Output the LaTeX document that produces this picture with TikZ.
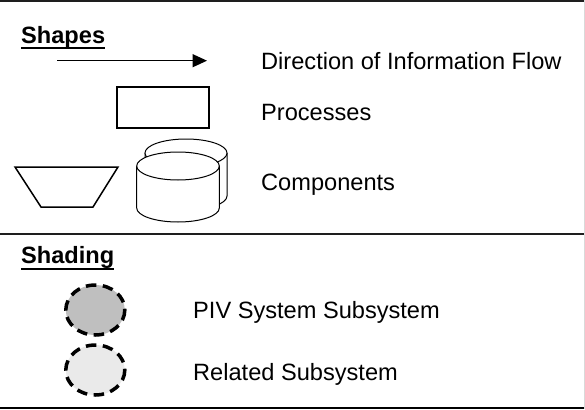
\documentclass[tikz,border=0pt]{standalone}
\usepackage{fontspec}
\setmainfont{Liberation Sans}
\usetikzlibrary{arrows.meta}
\definecolor{pivgray}{RGB}{191,191,191}
\definecolor{relgray}{RGB}{234,234,234}
\definecolor{framegray}{RGB}{30,30,30}
\begin{document}
\begin{tikzpicture}[x=1pt,y=-1pt,
  lbl/.style={inner sep=0pt,anchor=base west,font=\fontsize{23.6}{28}\selectfont},
  headlbl/.style={lbl,font=\fontsize{23.6}{28}\selectfont\bfseries},
  uline/.style={line width=2.5pt},
  outlined/.style={line width=1.5pt,draw=black},
  cyl/.style={line width=1pt,draw=black,fill=white},
  subsys/.style={line width=3.5pt,dash pattern=on 10.5pt off 6.5pt,draw=black}]
\useasboundingbox (0,0) rectangle (585,409);
% frame
\draw[line width=2.5pt,framegray] (0,1.2) -- (585,1.2);
\draw[line width=2.5pt,black] (0,407.8) -- (585,407.8);
\draw[line width=2pt,framegray] (0,234) -- (585,234);
\draw[line width=1pt,black!15] (584.5,0) -- (584.5,409);
% headings
\node[headlbl] (shapes) at (21,43.5) {Shapes};
\draw[uline] ([yshift=-4.6pt]shapes.base west) -- ([yshift=-4.6pt]shapes.base east);
\node[headlbl] (shading) at (21,263.3) {Shading};
\draw[uline] ([yshift=-5.5pt]shading.base west) -- ([yshift=-5.5pt]shading.base east);
% arrow
\coordinate (as) at (57,60.7);
\coordinate (ae) at (207,60.7);
\draw[line width=1.5pt,-{Triangle[length=14.5pt,width=13pt]}] (as) -- (ae);
\node[lbl] (dir) at (261,70) {Direction of Information Flow};
% process box
\node[outlined,minimum width=92pt,minimum height=41pt,inner sep=0pt] (proc) at (163,107.5) {};
\node[lbl] (procl) at (261,120.2) {Processes};
% trapezoid
\draw[outlined,line join=miter] (15,167) -- (118,167) -- (93,207) -- (41,207) -- cycle;
% back cylinder
\draw[cyl] (145,153) -- (145,196) .. controls (145,203.73) and (163.4,210) .. (186,210)
  .. controls (208.6,210) and (227,203.73) .. (227,196) -- (227,153);
\draw[cyl] (186,153) ellipse [x radius=41,y radius=14];
% front cylinder
\draw[cyl] (136.7,166) -- (136.7,208) .. controls (136.7,215.73) and (155.2,222) .. (178,222)
  .. controls (200.8,222) and (219.3,215.73) .. (219.3,208) -- (219.3,166);
\draw[cyl] (178,166) ellipse [x radius=41.3,y radius=14];
\node[lbl] (comp) at (261,190.2) {Components};
% shading
\draw[subsys,fill=pivgray] (95.3,310) ellipse [x radius=29.5,y radius=25];
\node[lbl] (piv) at (193,318.6) {PIV System Subsystem};
\draw[subsys,fill=relgray] (95.3,370) ellipse [x radius=29.5,y radius=25];
\node[lbl] (rel) at (193,380.2) {Related Subsystem};
\end{tikzpicture}
\end{document}
